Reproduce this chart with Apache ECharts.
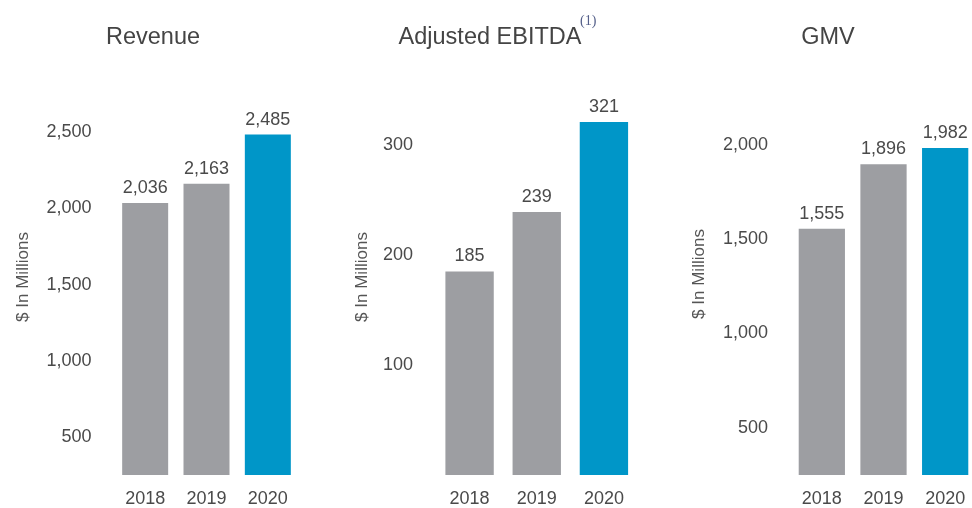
<!DOCTYPE html>
<html>
<head>
<meta charset="utf-8">
<script src="https://cdn.jsdelivr.net/npm/echarts@6/dist/echarts.min.js"></script>
<style>
html,body{margin:0;padding:0;background:#fff;overflow:hidden;}
#chart{width:984px;height:508px;}
</style>
</head>
<body>
<div id="chart"></div>
<script>
const categories = ['2018', '2019', '2020'];
const revenue = [2036, 2163, 2485];
const ebitda = [185, 239, 321];
const gmv = [1555, 1896, 1982];
const revenueTicks = [500, 1000, 1500, 2000, 2500];
const ebitdaTicks = [100, 200, 300];
const gmvTicks = [500, 1000, 1500, 2000];
const titles = ['Revenue', 'Adjusted EBITDA', 'GMV'];
const footnote = '(1)';
const axisName = '$ In Millions';

const FONT = '"Liberation Sans", Arial, sans-serif';
const GRAY = '#9d9ea2';
const BLUE = '#0096c8';
const TEXT = '#4a4a4a';

const fmt = v => v.toLocaleString('en-US');

function colored(arr) {
  return arr.map((v, i) => ({ value: v, itemStyle: { color: i === arr.length - 1 ? BLUE : GRAY } }));
}

const grids = [
  { left: 114.5, width: 184, top: 79, height: 396 },
  { left: 436, width: 201.5, top: 79, height: 396 },
  { left: 791, width: 185, top: 73, height: 402 }
];
const yCfg = [
  { min: 250, max: 2850, ticks: revenueTicks, gap: 83 },
  { min: 0, max: 360, ticks: ebitdaTicks, gap: 65 },
  { min: 250, max: 2380, ticks: gmvTicks, gap: 83 }
];
const seriesData = [revenue, ebitda, gmv];
const titleCenters = [148, 485, 823];

const option = {
  animation: false,
  backgroundColor: '#fff',
  title: titles.map((t, i) => ({
    text: t,
    left: titleCenters[i],
    top: 21,
    textAlign: 'center',
    textStyle: { fontFamily: FONT, fontSize: 23.5, fontWeight: 'normal', color: '#444' }
  })).concat([{
    text: footnote,
    left: 575,
    top: 9,
    textStyle: { fontFamily: '"Liberation Serif", "DejaVu Serif", serif', fontSize: 14, fontWeight: 'normal', color: '#55608a' }
  }]),
  grid: grids,
  xAxis: grids.map((g, i) => ({
    type: 'category',
    gridIndex: i,
    data: categories,
    axisLine: { show: false },
    axisTick: { show: false },
    axisLabel: { fontFamily: FONT, fontSize: 18, color: TEXT, margin: 15 }
  })),
  yAxis: yCfg.map((c, i) => ({
    type: 'value',
    gridIndex: i,
    min: c.min,
    max: c.max,
    name: axisName,
    nameLocation: 'middle',
    nameGap: c.gap,
    nameTextStyle: { fontFamily: FONT, fontSize: 17, color: '#555' },
    axisLine: { show: false },
    axisTick: { show: false },
    splitLine: { show: false },
    axisLabel: {
      customValues: c.ticks,
      formatter: v => fmt(v),
      fontFamily: FONT, fontSize: 18, color: TEXT, margin: 23
    }
  })),
  series: seriesData.map((d, i) => ({
    type: 'bar',
    xAxisIndex: i,
    yAxisIndex: i,
    data: colored(d),
    barCategoryGap: i === 1 ? '28%' : '25%',
    label: {
      show: true,
      position: 'top',
      distance: 6,
      formatter: p => fmt(p.value),
      fontFamily: FONT, fontSize: 18, color: TEXT
    }
  }))
};

const chart = echarts.init(document.getElementById('chart'), null, { renderer: 'canvas' });
chart.setOption(option);
</script>
</body>
</html>
